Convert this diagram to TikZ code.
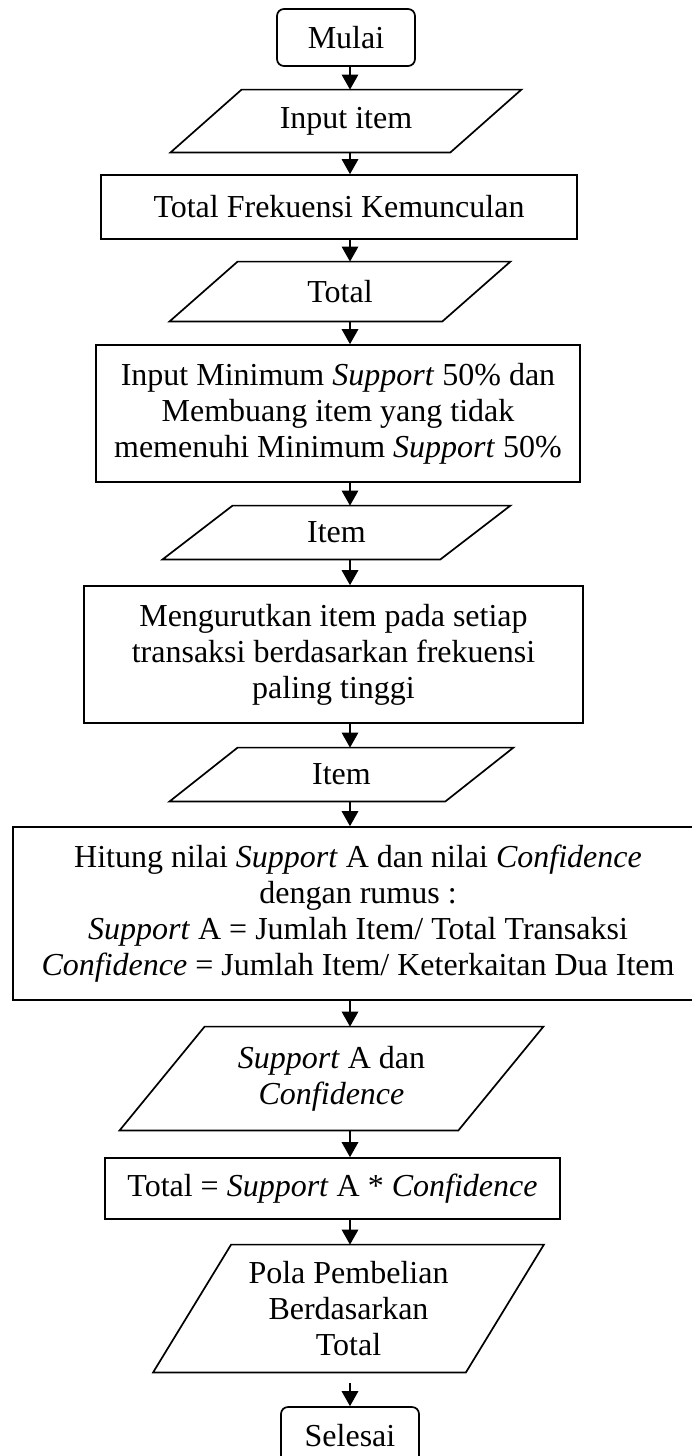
\documentclass[tikz,border=0pt]{standalone}
\usepackage{fontspec}
\setmainfont{Liberation Serif}
\usetikzlibrary{arrows.meta}
\begin{document}
\begin{tikzpicture}[x=0.5pt,y=-0.5pt,
  base/.style={inner sep=0pt, align=center, font=\fontsize{16pt}{18pt}\selectfont},
  procbox/.style={base, draw, line width=0.85pt, rectangle},
  termbox/.style={procbox, rounded corners=3.5pt},
  iobox/.style={base},
  outline/.style={draw, line width=0.85pt, line join=miter},
  arr/.style={line width=0.6pt, -{Triangle[length=7.5pt,width=8.3pt]}}]
\useasboundingbox (0,0) rectangle (691,1456);

% flow axis for all connectors
\coordinate (ax) at (350,0);

% terminals and process boxes
\node[termbox, minimum width=69pt, minimum height=28.5pt] (mulai) at (346,37.5) {Mulai};
\node[procbox, minimum width=238pt, minimum height=32pt] (tfk) at (339,207) {Total Frekuensi Kemunculan};
\node[procbox, minimum width=242pt, minimum height=68.5pt] (inmin) at (338,413.5)
  {Input Minimum \textit{Support} 50\% dan\\Membuang item yang tidak\\memenuhi Minimum \textit{Support} 50\%};
\node[procbox, minimum width=249.5pt, minimum height=68.5pt] (urut) at (333.5,654.5)
  {Mengurutkan item pada setiap\\transaksi berdasarkan frekuensi\\paling tinggi};
\node[procbox, minimum width=345pt, minimum height=86.5pt] (hitung) at (358,913.5)
  {Hitung nilai \textit{Support} A dan nilai \textit{Confidence}\\dengan rumus :\\\textit{Support} A = Jumlah Item/ Total Transaksi\\\textit{Confidence} = Jumlah Item/ Keterkaitan Dua Item};
\node[procbox, minimum width=227.5pt, minimum height=30.5pt] (totsc) at (332.5,1188.5)
  {Total = \textit{Support} A * \textit{Confidence}};
\node[termbox, minimum width=69pt, minimum height=28.5pt] (selesai) at (350,1435.5) {Selesai};

% input/output nodes (outlines drawn below)
\node[iobox, minimum width=139.5pt, minimum height=31pt] (inp) at (346,121) {Input item};
\node[iobox, minimum width=136pt, minimum height=29.5pt] (tot) at (340,291.5) {Total};
\node[iobox, minimum width=138.5pt, minimum height=26.5pt] (item1) at (336.5,532.5) {Item};
\node[iobox, minimum width=137.5pt, minimum height=26.5pt] (item2) at (341.5,774.5) {Item};
\node[iobox, minimum width=169pt, minimum height=51.5pt] (sup) at (331.5,1078.5)
  {\textit{Support} A dan\\\textit{Confidence}};
\node[iobox, minimum width=156pt, minimum height=63.5pt] (pola) at (348.5,1308.5)
  {Pola Pembelian\\Berdasarkan\\Total};

% slanted outlines of the input/output nodes
\foreach \n/\o in {inp/17.75pt, tot/17pt, item1/17.5pt, item2/17pt, sup/21.25pt, pola/19.5pt}
  \draw[outline] ([xshift=\o]\n.north west) -- ([xshift=\o]\n.north east)
    -- ([xshift=-\o]\n.south east) -- ([xshift=-\o]\n.south west) -- cycle;

% connectors
\draw[arr] (mulai.south -| ax) -- (inp.north -| ax);
\draw[arr] (inp.south -| ax) -- (tfk.north -| ax);
\draw[arr] (tfk.south -| ax) -- (tot.north -| ax);
\draw[arr] (tot.south -| ax) -- (inmin.north -| ax);
\draw[arr] (inmin.south -| ax) -- (item1.north -| ax);
\draw[arr] (item1.south -| ax) -- (urut.north -| ax);
\draw[arr] (urut.south -| ax) -- (item2.north -| ax);
\draw[arr] (item2.south -| ax) -- (hitung.north -| ax);
\draw[arr] (hitung.south -| ax) -- (sup.north -| ax);
\draw[arr] (sup.south -| ax) -- (totsc.north -| ax);
\draw[arr] (totsc.south -| ax) -- (pola.north -| ax);
\draw[arr] ([yshift=-5.5pt]pola.south -| ax) -- (selesai.north -| ax);
\end{tikzpicture}
\end{document}
